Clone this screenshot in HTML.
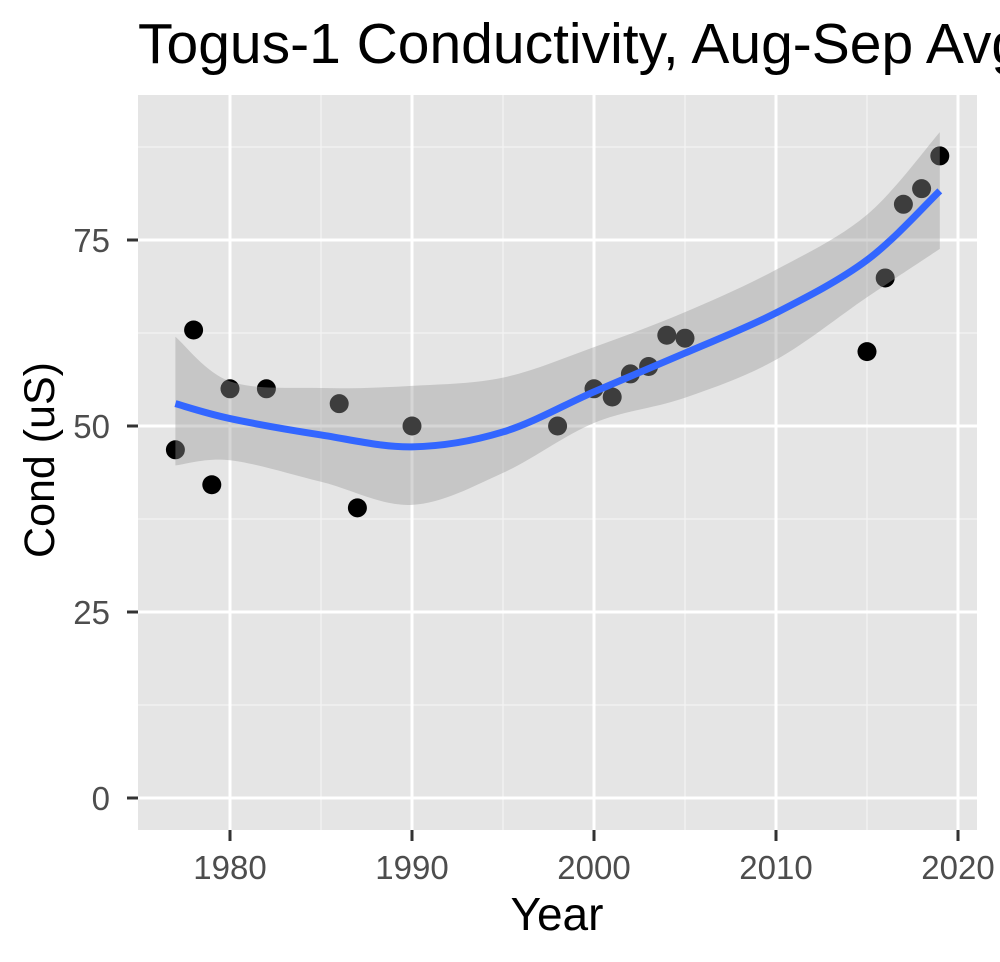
<!DOCTYPE html>
<html><head><meta charset="utf-8"><style>
body{margin:0;background:#fff;}
svg{display:block;font-family:"Liberation Sans",sans-serif;}
</style></head><body>
<svg id="chart" width="1000" height="962">
<text x="138" y="63" font-size="57" fill="#000">Togus-1 Conductivity, Aug-Sep Avg</text>
<rect x="138" y="95" width="839" height="735" fill="#e5e5e5"/>
<g id="grid"></g>
<g id="pts"></g>
<g id="smooth"></g>
<g id="axes"></g>
<text x="557" y="930" font-size="46" text-anchor="middle" fill="#000">Year</text>
<text transform="translate(54,460) rotate(-90)" font-size="43" text-anchor="middle" fill="#000">Cond (uS)</text>
</svg>
<script>
const years=[1977,1978,1979,1980,1982,1986,1987,1990,1998,2000,2001,2002,2003,2004,2005,2015,2016,2017,2018,2019];
const cond=[46.8,62.9,42.1,55,55,53,39,50,50,55,53.9,57,58,62.2,61.8,60,69.9,79.8,81.9,86.3];
const fitYears=[1977,1980,1985,1990,1995,2000,2005,2010,2015,2019];
const fitVals=[53,51,48.8,47.2,49.2,54.6,59.8,65.2,72.3,81.6];
const fitLower=[44.7,45.4,42.5,39.4,43.7,50.4,53.8,58.9,67.3,73.8];
const fitUpper=[62,56,55.1,55.4,56.5,60.6,65.3,71,78.4,89.5];
const xTicks=[1980,1990,2000,2010,2020];
const yTicks=[0,25,50,75];
const NS="http://www.w3.org/2000/svg";
const X=v=>230+(v-1980)*18.2, Y=v=>798-v*7.44;
function mk(tag,attrs,parent){const e=document.createElementNS(NS,tag);for(const k in attrs)e.setAttribute(k,attrs[k]);parent.appendChild(e);return e;}
const grid=document.getElementById('grid');
[1985,1995,2005,2015].forEach(v=>{const l=mk('line',{x1:X(v),x2:X(v),y1:95,y2:830,stroke:'#f2f2f2','stroke-width':1.5},grid);

});
[12.5,37.5,62.5,87.5].forEach(v=>{const l=mk('line',{x1:138,x2:977,y1:Y(v),y2:Y(v),stroke:'#f2f2f2','stroke-width':1.5},grid);

});
xTicks.forEach(v=>{const l=mk('line',{x1:X(v),x2:X(v),y1:95,y2:830,stroke:'#fff','stroke-width':3},grid);

});
yTicks.forEach(v=>{const l=mk('line',{x1:138,x2:977,y1:Y(v),y2:Y(v),stroke:'#fff','stroke-width':3},grid);

});
const pts=document.getElementById('pts');
years.forEach((yr,i)=>{const c=mk('circle',{cx:X(yr),cy:Y(cond[i]),r:9.5,fill:'#000'},pts);

});
const sm=document.getElementById('smooth');
function curve(xs,ys){const p=xs.map((x,i)=>[X(x),Y(ys[i])]);let d='M'+p[0][0]+','+p[0][1];
for(let i=0;i<p.length-1;i++){const p0=p[i-1]||p[i],p1=p[i],p2=p[i+1],p3=p[i+2]||p2;
d+=' C'+(p1[0]+(p2[0]-p0[0])/6)+','+(p1[1]+(p2[1]-p0[1])/6)+' '+(p2[0]-(p3[0]-p1[0])/6)+','+(p2[1]-(p3[1]-p1[1])/6)+' '+p2[0]+','+p2[1];}return d;}
const up=curve(fitYears,fitUpper);
const lo=curve(fitYears.slice().reverse(),fitLower.slice().reverse());
const rib=mk('path',{d:up+' L'+lo.slice(1)+' Z',fill:'#999','fill-opacity':0.4},sm);


const ln=mk('path',{d:curve(fitYears,fitVals),fill:'none',stroke:'#3366ff','stroke-width':7},sm);


const ax=document.getElementById('axes');
xTicks.forEach(v=>{mk('line',{x1:X(v),x2:X(v),y1:830,y2:841,stroke:'#333','stroke-width':3},ax);
const t=mk('text',{x:X(v),y:879,'font-size':33,'text-anchor':'middle',fill:'#4d4d4d'},ax);t.textContent=v;

});
yTicks.forEach(v=>{mk('line',{x1:127,x2:138,y1:Y(v),y2:Y(v),stroke:'#333','stroke-width':3},ax);
const t=mk('text',{x:110,y:Y(v)+12,'font-size':33,'text-anchor':'end',fill:'#4d4d4d'},ax);t.textContent=v;

});
</script>
</body></html>
